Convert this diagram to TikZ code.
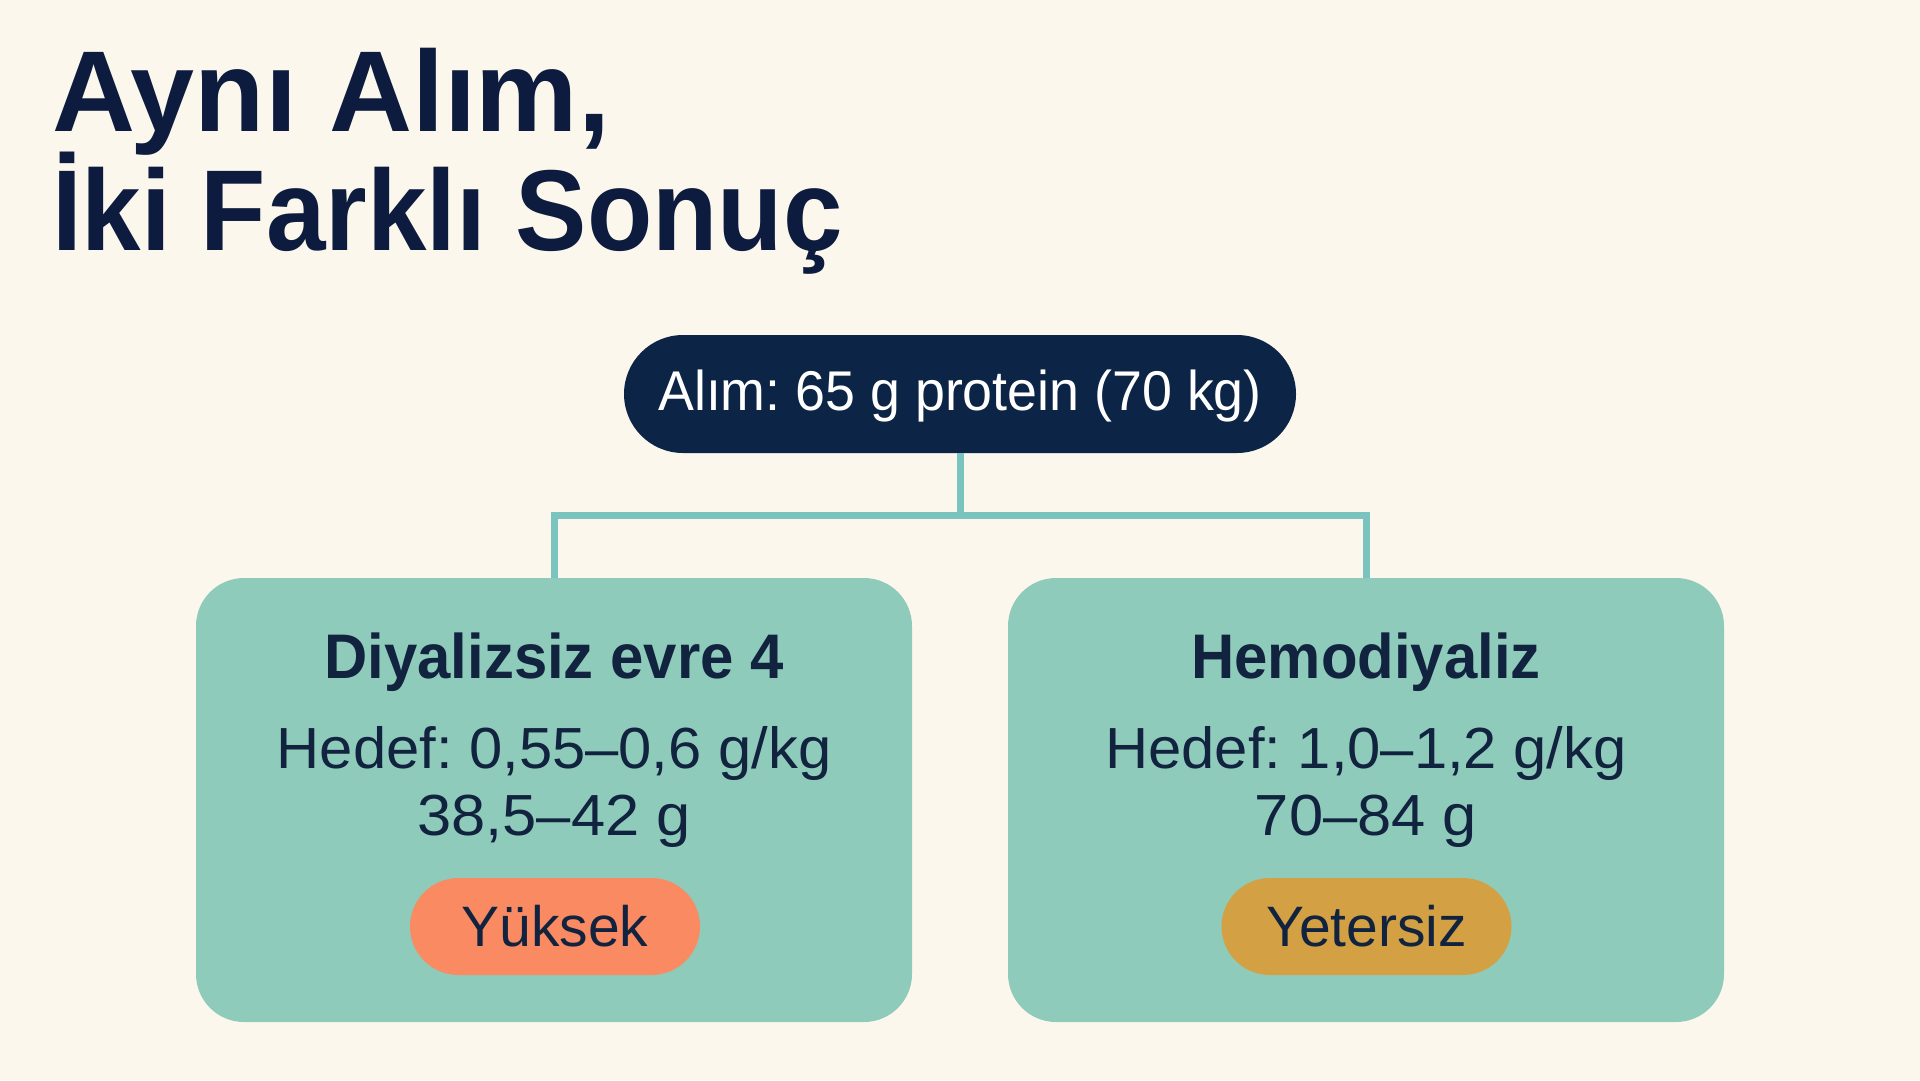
\documentclass[tikz,border=0pt]{standalone}
\usepackage{fontspec}
\setmainfont{Liberation Sans}
\newfontfamily\condsans[FakeStretch=0.95]{Liberation Sans}
\newfontfamily\topsans[FakeStretch=0.96]{Liberation Sans}
\newfontfamily\narrowtitle[FakeStretch=0.93]{Liberation Sans}
\newfontfamily\goalsans[FakeStretch=1.03]{Liberation Sans}
\newfontfamily\gramsans[FakeStretch=1.06]{Liberation Sans}
\frenchspacing
\definecolor{bgcol}{HTML}{FCF7EC}
\definecolor{navy}{HTML}{0C2446}
\definecolor{titlecol}{HTML}{0D1C3E}
\definecolor{inkcol}{HTML}{12233F}
\definecolor{boxcol}{HTML}{8FCBBB}
\definecolor{conncol}{HTML}{7AC3BF}
\definecolor{orangecol}{HTML}{F98A61}
\definecolor{goldcol}{HTML}{D3A043}
\begin{document}
\begin{tikzpicture}[x=1pt,y=-1pt,
  titletext/.style={anchor=base west, inner sep=0pt, text=titlecol, font=\fontsize{115}{119}\selectfont\bfseries},
  toppill/.style={fill=navy, rounded corners=59pt, minimum width=672pt, minimum height=118pt, inner sep=0pt,
    text=white, text height=40pt, text depth=6.6pt, font=\topsans\fontsize{56}{60}\selectfont},
  card/.style={fill=boxcol, rounded corners=48pt, minimum width=716pt, minimum height=444pt, inner sep=0pt},
  cardtitle/.style={anchor=base, inner sep=0pt, text=inkcol, font=\condsans\fontsize{63}{66}\selectfont\bfseries},
  cardline/.style={anchor=base, inner sep=0pt, text=inkcol, font=\goalsans\fontsize{58}{62}\selectfont},
  gramline/.style={anchor=base, inner sep=0pt, text=inkcol, font=\gramsans\fontsize{58}{62}\selectfont},
  badge/.style={rounded corners=48.5pt, minimum width=290pt, minimum height=97pt, inner sep=0pt,
    text=inkcol, text height=41pt, text depth=2pt, font=\fontsize{57}{60}\selectfont},
  conn/.style={draw=conncol, line width=7pt}
]
\useasboundingbox (0,0) rectangle (1920,1080);
\fill[bgcol] (0,0) rectangle (1920,1080);

% title
\node[titletext] (title1) at (52,131.7) {Aynı Alım,};
\node[titletext, font=\narrowtitle\fontsize{115}{119}\selectfont\bfseries] (title2) at (52,250.3) {İki Farklı Sonuç};

% top node
\node[toppill] (top) at (960,394) {Alım: 65 g protein (70 kg)};

% cards
\node[card] (lbox) at (554,800) {};
\node[card] (rbox) at (1366,800) {};

% connectors
\coordinate (j) at (960,515);
\draw[conn] (top.south) -- (j);
\draw[conn] (lbox.north) |- (j) -| (rbox.north);

% left card text
\node[cardtitle] (ltitle) at (554,678) {Diyalizsiz evre 4};
\node[cardline] (lgoal) at (554,768) {Hedef: 0,55–0,6 g/kg};
\node[gramline] (lgram) at (554,835) {38,5–42 g};
\node[badge, fill=orangecol] (lbadge) at (555,926.5) {Yüksek};

% right card text
\node[cardtitle] (rtitle) at (1366,678) {Hemodiyaliz};
\node[cardline] (rgoal) at (1366,768) {Hedef: 1,0–1,2 g/kg};
\node[gramline] (rgram) at (1366,835) {70–84 g};
\node[badge, fill=goldcol] (rbadge) at (1366.5,926.5) {Yetersiz};
\end{tikzpicture}
\end{document}
